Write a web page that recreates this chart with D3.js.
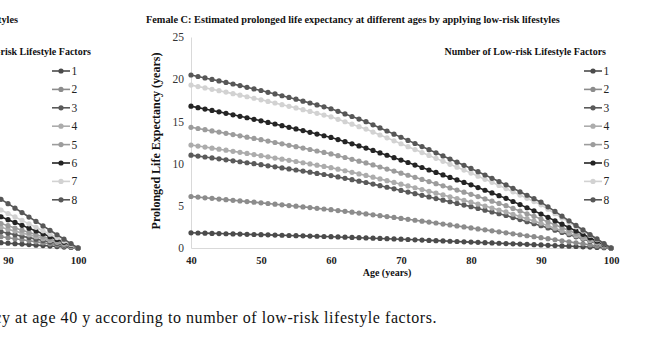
<!DOCTYPE html>
<html><head><meta charset="utf-8">
<script src="https://cdn.jsdelivr.net/npm/d3@7"></script>
<style>html,body{margin:0;padding:0;background:#fff;}svg{display:block;}</style>
</head><body><svg id="c" width="670" height="350"></svg>
<script>
// ---------- DATA ----------
const ages = d3.range(40, 101); // 40..100 yearly
const seriesNames = ["1","2","3","4","5","6","7","8"];
const seriesColors = ["#4b4b4b","#8c8c8c","#5a5a5a","#acacac","#9c9c9c","#242424","#d2d2d2","#575757"];
const yTicks = [0,5,10,15,20,25];
const xTicks = [40,50,60,70,80,90,100];

const s1 = [1.80,1.78,1.76,1.73,1.71,1.69,1.67,1.65,1.62,1.60,1.58,1.56,1.53,1.51,1.48,1.46,1.44,1.41,1.39,1.36,1.34,1.31,1.28,1.25,1.22,1.19,1.16,1.13,1.10,1.07,1.04,1.01,0.97,0.94,0.90,0.87,0.84,0.80,0.77,0.73,0.70,0.67,0.63,0.60,0.56,0.53,0.50,0.46,0.43,0.39,0.36,0.32,0.29,0.25,0.22,0.18,0.14,0.11,0.07,0.04,0];
const s2 = [6.10,6.03,5.95,5.88,5.80,5.73,5.65,5.58,5.50,5.43,5.35,5.27,5.19,5.11,5.03,4.95,4.87,4.79,4.70,4.62,4.54,4.44,4.34,4.24,4.14,4.04,3.93,3.83,3.72,3.62,3.51,3.40,3.29,3.18,3.07,2.96,2.84,2.73,2.61,2.50,2.38,2.26,2.15,2.03,1.92,1.80,1.68,1.57,1.45,1.34,1.22,1.10,0.98,0.85,0.73,0.61,0.49,0.37,0.24,0.12,0];
const s3 = [11.0,10.89,10.78,10.67,10.56,10.45,10.33,10.22,10.10,9.99,9.87,9.74,9.62,9.49,9.37,9.24,9.11,8.98,8.84,8.71,8.58,8.42,8.25,8.09,7.92,7.76,7.57,7.38,7.20,7.01,6.82,6.63,6.44,6.24,6.05,5.86,5.67,5.48,5.28,5.09,4.90,4.69,4.48,4.27,4.06,3.85,3.61,3.37,3.12,2.88,2.64,2.38,2.11,1.85,1.58,1.32,1.06,0.79,0.53,0.26,0];
const s4 = [12.2,12.08,11.96,11.83,11.71,11.59,11.46,11.33,11.20,11.07,10.94,10.80,10.66,10.53,10.39,10.25,10.10,9.96,9.81,9.67,9.52,9.34,9.15,8.97,8.78,8.60,8.39,8.18,7.98,7.77,7.56,7.35,7.14,6.92,6.71,6.50,6.29,6.07,5.86,5.64,5.43,5.20,4.97,4.73,4.50,4.27,4.00,3.73,3.47,3.20,2.93,2.64,2.34,2.05,1.75,1.46,1.17,0.88,0.58,0.29,0];
const s5 = [14.3,14.16,14.02,13.87,13.73,13.59,13.44,13.29,13.13,12.98,12.83,12.67,12.50,12.34,12.17,12.01,11.84,11.67,11.49,11.32,11.15,10.94,10.72,10.51,10.29,10.08,9.84,9.60,9.35,9.11,8.87,8.62,8.37,8.12,7.87,7.62,7.37,7.12,6.86,6.61,6.36,6.09,5.82,5.55,5.28,5.01,4.69,4.38,4.06,3.75,3.43,3.09,2.75,2.40,2.06,1.72,1.38,1.03,0.69,0.34,0];
const s6 = [16.8,16.63,16.46,16.30,16.13,15.96,15.78,15.60,15.43,15.25,15.07,14.88,14.69,14.49,14.30,14.11,13.91,13.71,13.50,13.30,13.10,12.85,12.60,12.34,12.09,11.84,11.56,11.27,10.99,10.70,10.42,10.13,9.83,9.54,9.24,8.95,8.66,8.36,8.07,7.77,7.48,7.16,6.84,6.52,6.20,5.88,5.51,5.14,4.77,4.40,4.03,3.63,3.22,2.82,2.42,2.02,1.62,1.21,0.81,0.40,0];
const s7 = [19.3,19.13,18.97,18.80,18.64,18.47,18.29,18.11,17.92,17.74,17.56,17.37,17.18,16.98,16.79,16.60,16.39,16.18,15.96,15.75,15.54,15.25,14.96,14.67,14.38,14.09,13.74,13.39,13.05,12.70,12.35,12.00,11.66,11.31,10.97,10.62,10.27,9.92,9.58,9.23,8.88,8.51,8.14,7.78,7.41,7.04,6.65,6.27,5.88,5.50,5.11,4.59,4.07,3.55,3.03,2.51,2.01,1.51,1.00,0.50,0];
const s8 = [20.5,20.32,20.15,19.97,19.80,19.62,19.43,19.24,19.04,18.85,18.66,18.45,18.25,18.04,17.84,17.63,17.40,17.18,16.95,16.73,16.50,16.19,15.89,15.58,15.28,14.97,14.60,14.23,13.86,13.49,13.12,12.75,12.38,12.02,11.65,11.28,10.91,10.54,10.17,9.80,9.43,9.04,8.65,8.26,7.87,7.48,7.07,6.66,6.25,5.84,5.43,4.88,4.33,3.77,3.22,2.67,2.14,1.60,1.07,0.53,0];
const femaleSeries = [s1,s2,s3,s4,s5,s6,s7,s8];

// Partially visible neighbouring chart (left edge): ages 87..100
const leftAges = d3.range(87, 101);
const l1 = [0.74,0.69,0.63,0.57,0.51,0.46,0.40,0.34,0.29,0.23,0.17,0.11,0.06,0];
const l2 = [1.58,1.46,1.34,1.22,1.10,0.98,0.85,0.73,0.61,0.49,0.37,0.24,0.12,0];
const l3 = [2.28,2.10,1.93,1.75,1.58,1.40,1.23,1.05,0.88,0.70,0.53,0.35,0.18,0];
const l4 = [2.90,2.67,2.45,2.23,2.00,1.78,1.56,1.34,1.11,0.89,0.67,0.45,0.22,0];
const l5 = [3.43,3.16,2.90,2.64,2.37,2.11,1.85,1.58,1.32,1.06,0.79,0.53,0.26,0];
const l6 = [4.37,4.04,3.70,3.36,3.03,2.69,2.35,2.02,1.68,1.34,1.01,0.67,0.34,0];
const l7 = [5.32,4.91,4.50,4.09,3.68,3.27,2.86,2.45,2.04,1.64,1.23,0.82,0.41,0];
const l8 = [6.82,6.30,5.77,5.25,4.72,4.20,3.67,3.15,2.62,2.10,1.57,1.05,0.52,0];
const leftSeries = [l1,l2,l3,l4,l5,l6,l7,l8];

const mainTitle = "Female C: Estimated prolonged life expectancy at different ages by applying low-risk lifestyles";
const prevTitle = "Male C: Estimated prolonged life expectancy at different ages by applying low-risk lifestyles";
const legendTitle = "Number of Low-risk Lifestyle Factors";
const xTitle = "Age (years)";
const yTitle = "Prolonged Life Expectancy (years)";
const caption = "Figure 2. Estimated prolonged life expectancy at age 40 y according to number of low-risk lifestyle factors.";

// ---------- DRAW ----------
const svg = d3.select("#c");
const serif = "'Liberation Serif','Times New Roman',serif";
const axisColor = "#d9d9d9";

function drawSeries(g, xs, ys, agesArr, seriesArr) {
  seriesArr.forEach((vals, i) => {
    const pts = agesArr.map((a, k) => [a, vals[k]]);
    const line = d3.line().x(d => xs(d[0])).y(d => ys(d[1]));
    g.append("path").attr("d", line(pts)).attr("fill", "none")
      .attr("stroke", seriesColors[i]).attr("stroke-width", 1.6);
    g.selectAll(null).data(pts).enter().append("circle")
      .attr("cx", d => xs(d[0])).attr("cy", d => ys(d[1])).attr("r", 2.6)
      .attr("fill", seriesColors[i]);
  });
}

function drawLegend(g, x0, y0, step) {
  seriesNames.forEach((n, i) => {
    const yy = y0 + i * step;
    g.append("line").attr("x1", x0).attr("x2", x0 + 18).attr("y1", yy).attr("y2", yy)
      .attr("stroke", seriesColors[i]).attr("stroke-width", 1.6);
    g.append("circle").attr("cx", x0 + 9).attr("cy", yy).attr("r", 2.6).attr("fill", seriesColors[i]);
    g.append("text").attr("x", x0 + 19.5).attr("y", yy + 4).text(n)
      .attr("font-family", serif).attr("font-size", 11.5).attr("fill", "#222");
  });
}

// Main (Female) chart
const x = d3.scaleLinear().domain([40, 100]).range([191, 611]);
const y = d3.scaleLinear().domain([0, 25]).range([248, 37]);
const gm = svg.append("g");

gm.append("text").attr("x", 146).attr("y", 23).text(mainTitle)
  .attr("font-family", serif).attr("font-weight", "bold").attr("font-size", 10.3).attr("fill", "#111");

const yAxis = d3.axisLeft(y).tickValues(yTicks).tickSize(0).tickPadding(7);
const ya = gm.append("g").attr("transform", "translate(191,0)").call(yAxis);
ya.select(".domain").attr("stroke", axisColor);
ya.selectAll("text").attr("font-family", serif).attr("font-size", 11.5).attr("fill", "#333");

const xAxis = d3.axisBottom(x).tickValues(xTicks).tickSize(0).tickPadding(9);
const xa = gm.append("g").attr("transform", "translate(0,248)").call(xAxis);
xa.select(".domain").attr("stroke", axisColor);
xa.selectAll("text").attr("font-family", serif).attr("font-size", 10.5).attr("font-weight", "bold").attr("fill", "#222");

gm.append("text").attr("x", 387).attr("y", 276).attr("text-anchor", "middle").text(xTitle)
  .attr("font-family", serif).attr("font-weight", "bold").attr("font-size", 10).attr("fill", "#111");
gm.append("text").attr("transform", "translate(160,141) rotate(-90)").attr("text-anchor", "middle").text(yTitle)
  .attr("font-family", serif).attr("font-weight", "bold").attr("font-size", 12).attr("fill", "#111");

drawSeries(gm, x, y, ages, femaleSeries);

gm.append("text").attr("x", 606).attr("y", 55).attr("text-anchor", "end").text(legendTitle)
  .attr("font-family", serif).attr("font-weight", "bold").attr("font-size", 10).attr("fill", "#111");
drawLegend(gm, 584, 71, 18.4);

// Left partially visible chart
const xl = d3.scaleLinear().domain([40, 100]).range([-342, 78]);
const gl = svg.append("g");
gl.append("text").attr("x", 18).attr("y", 23).attr("text-anchor", "end").text(prevTitle)
  .attr("font-family", serif).attr("font-weight", "bold").attr("font-size", 10.3).attr("fill", "#111");
const xla = gl.append("g").attr("transform", "translate(0,248)")
  .call(d3.axisBottom(xl).tickValues(xTicks).tickSize(0).tickPadding(9));
xla.select(".domain").attr("stroke", axisColor);
xla.selectAll("text").attr("font-family", serif).attr("font-size", 10.5).attr("font-weight", "bold").attr("fill", "#222");
drawSeries(gl, xl, y, leftAges, leftSeries);
gl.append("text").attr("x", 91).attr("y", 55).attr("text-anchor", "end").text(legendTitle)
  .attr("font-family", serif).attr("font-weight", "bold").attr("font-size", 10).attr("fill", "#111");
drawLegend(gl, 52, 71, 18.4);

// Caption (partially visible)
svg.append("text").attr("x", 437).attr("y", 323).attr("text-anchor", "end").text(caption)
  .attr("font-family", serif).attr("font-size", 16).attr("letter-spacing", 0.55).attr("fill", "#111");
</script></body></html>
